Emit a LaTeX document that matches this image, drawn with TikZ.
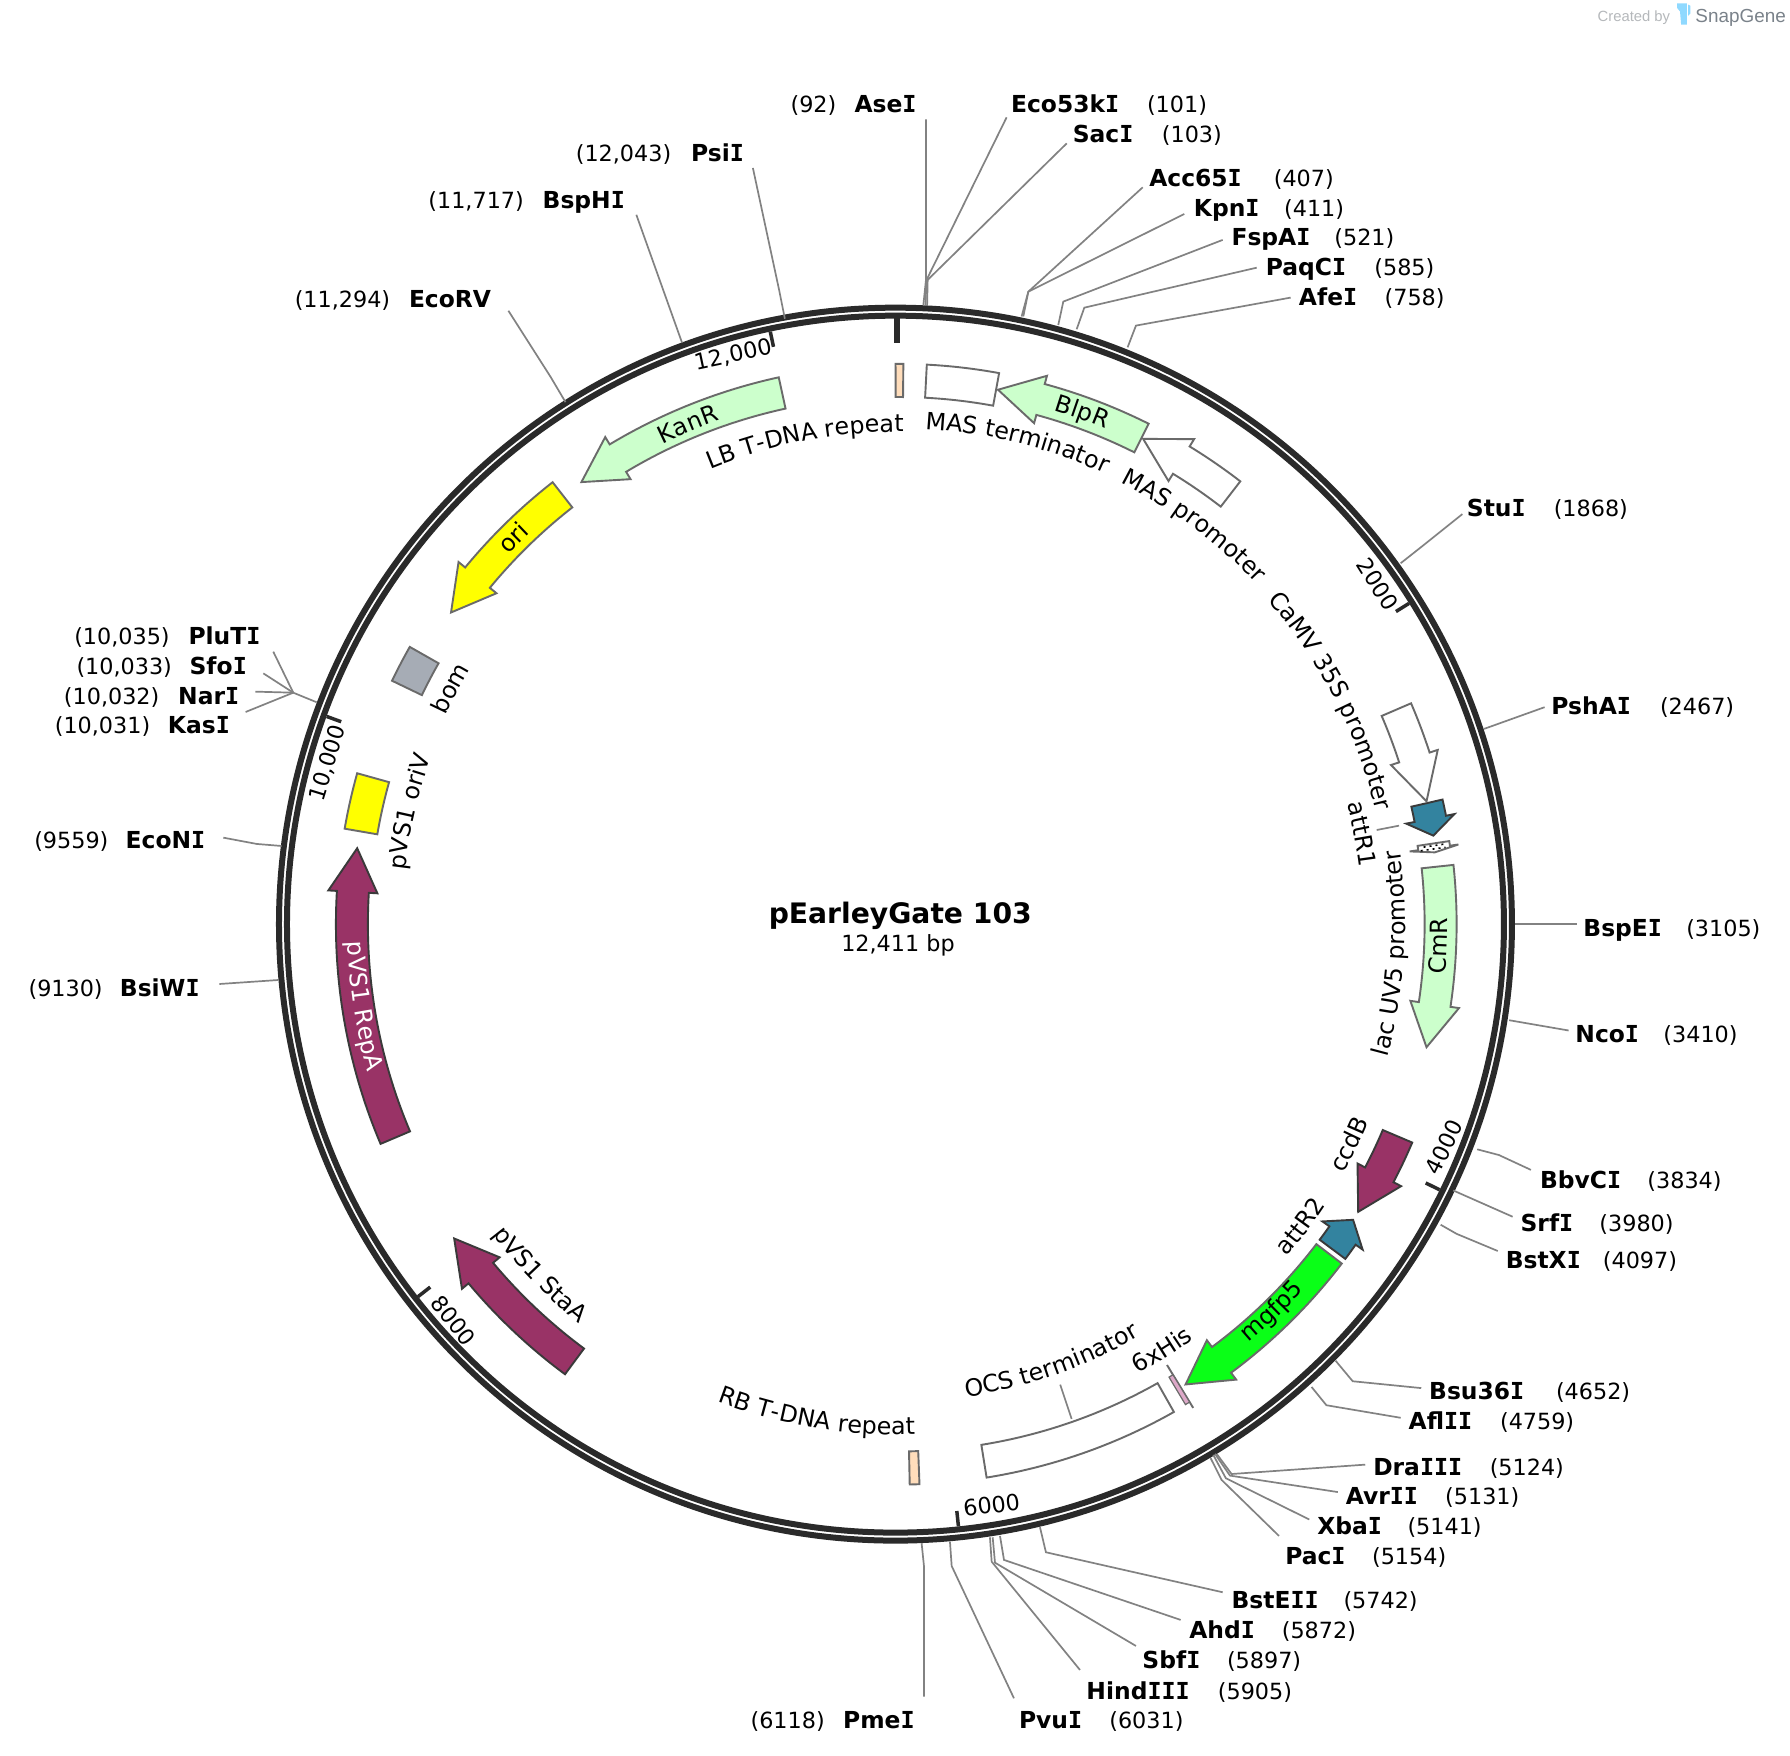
\documentclass[tikz,border=0pt]{standalone}
\usepackage{fontspec}
\setmainfont{DejaVu Sans}
\newfontfamily\logofont{Liberation Sans}
\newfontfamily\serifI{DejaVu Sans Mono}
\usetikzlibrary{decorations.text}
\newcommand\lblfont{\fontsize{22.3}{26}\selectfont}
\newcommand\curvefont{\fontsize{23.8}{26}\selectfont}
\newcommand\boldfont{\fontsize{23.4}{26}\selectfont\bfseries}
\newcommand\bI{{\serifI\bfseries I}}
\tikzset{
  every node/.style={inner sep=0pt,outer sep=0pt},
  ringline/.style={draw=ringcol,line width=6pt},
  tickbig/.style={draw=ringcol,line width=5.5pt},
  ticksmall/.style={draw=ringcol,line width=3.5pt},
  leader/.style={draw=leadcol,line width=1.7pt},
  enzname/.style={anchor=base west,font=\boldfont,text=black},
  enzpos/.style={anchor=base west,font=\lblfont,text=black},
  ticklab/.style={font=\lblfont,text=black},
  feat/.style={line width=1.9pt,draw=edgecol,line join=miter},
  featdark/.style={line width=1.9pt,draw=edgedark,line join=miter},
}
\definecolor{ringcol}{HTML}{2A2A2A}
\definecolor{leadcol}{HTML}{828282}
\definecolor{edgecol}{HTML}{6A6A6A}
\definecolor{edgedark}{HTML}{3A3A3A}
\definecolor{teal1}{HTML}{33839F}
\definecolor{burg}{HTML}{993366}
\definecolor{lgreen}{HTML}{CCFFCC}
\definecolor{ylw}{HTML}{FFFF00}
\definecolor{graybox}{HTML}{A6ACB5}
\definecolor{gfp}{HTML}{0AFF17}
\definecolor{peach}{HTML}{FFDDBB}
\definecolor{pinkb}{HTML}{DDA8C8}
\definecolor{logoblue}{HTML}{8FD9FF}
\definecolor{logogray}{HTML}{B5B8BB}
\definecolor{logodark}{HTML}{7A828A}
% arrow feature: style, tail angle, neck angle, tip angle, mid radius
\newcommand\farrow[5]{\draw[#1] ({#2}:{#5+14}) arc[start angle={#2},end angle={#3},radius={#5+14}] -- ({#3}:{#5+21.5}) -- ({#4}:{#5}) -- ({#3}:{#5-21.5}) -- ({#3}:{#5-14}) arc[start angle={#3},end angle={#2},radius={#5-14}] -- cycle;}
% box feature: style, angle 1, angle 2, mid radius
\newcommand\fband[4]{\draw[#1] ({#2}:{#4+14.5}) arc[start angle={#2},end angle={#3},radius={#4+14.5}] -- ({#3}:{#4-14.5}) arc[start angle={#3},end angle={#2},radius={#4-14.5}] -- cycle;}
% curved labels: baseline radius, mid angle, colour, text
\newcommand\cwlab[4]{\path[decorate,decoration={text along path,text align=center,text={|\curvefont\color{#3}|#4}}] ({#2+40}:#1) arc[start angle={#2+40},end angle={#2-40},radius=#1];}
\newcommand\ccwlab[4]{\path[decorate,decoration={text along path,text align=center,text={|\curvefont\color{#3}|#4}}] ({#2-40}:#1) arc[start angle={#2-40},end angle={#2+40},radius=#1];}
% enzyme: id, name x, name, pos x, pos, y centre
\newcommand\enz[6]{\node[enzname] (#1) at (#2,{-#6-7.3}) {#3}; \node[enzpos] (#1-pos) at (#4,{-#6-7.3}) {#5};}
\newcommand\lthree[7]{\coordinate (#1-a) at (#2,-#3); \coordinate (#1-b) at (#4,-#5); \coordinate (#1-c) at (#6,-#7); \draw[leader] (#1-a) -- (#1-b) -- (#1-c);}
\newcommand\ltwo[5]{\coordinate (#1-a) at (#2,-#3); \coordinate (#1-b) at (#4,-#5); \draw[leader] (#1-a) -- (#1-b);}
\begin{document}
\begin{tikzpicture}[x=1.1425pt,y=1.1425pt]
\useasboundingbox (0,0) rectangle (1566.8,-1537);
\fill[white] (0,0) rectangle (1566.8,-1537);

% logo
\node[anchor=base west,font=\logofont\fontsize{14.8}{16}\selectfont,text=logogray] (createdby) at (1398.5,-18.5) {Created by};
\fill[logoblue] (1468,-3) -- (1476.5,-3) -- (1476.5,-21.5) -- (1471.5,-21.5) -- (1470.5,-10) -- (1468,-7) -- cycle;
\fill[logoblue] (1477.5,-4) -- (1479.5,-5) -- (1479.5,-12) -- (1477.5,-14) -- cycle;
\node[anchor=base west,font=\logofont\fontsize{18.9}{21}\selectfont,text=logodark] (snapgene) at (1484,-19.5) {SnapGene};

% centre title
\node[font=\fontsize{28.2}{32}\selectfont\bfseries] (title) at (788,-802) {pEarleyGate 103};
\node[font=\lblfont] (size) at (786,-827.5) {12,411 bp};

% rings and scale ticks
\begin{scope}[shift={(783.8,-808.9)}]
  \draw[ringline] (0,0) circle[radius=539.6];
  \draw[ringline] (0,0) circle[radius=532.6];
  \foreach \a in {31.99,-26.02,-84.03,-142.04,159.94,101.93}
    \draw[ticksmall] (\a:530) -- (\a:516.5);
\end{scope}
\coordinate (toptick-a) at (785.2,-277);
\coordinate (toptick-b) at (785.2,-300.3);
\draw[tickbig] (toptick-a) -- (toptick-b);

\begin{scope}[shift={(786,-809)}]
  % features
  \farrow{feat,fill=lgreen}{102.3}{121.0}{125.6}{476}
  \farrow{feat,fill=ylw}{128.0}{140.5}{145.1}{477}
  \fband{feat,fill=graybox}{150.4}{154.3}{477}
  \fband{feat,fill=ylw}{164.4}{170.2}{477}
  \farrow{featdark,fill=burg}{203}{176.6}{172}{478}
  \farrow{featdark,fill=burg}{233.5}{219.9}{215.3}{476}
  \fband{feat,fill=peach}{-88.8}{-87.8}{476}
  \fband{feat,fill=white}{-80.9}{-60.5}{476}
  \draw[feat] (-58.6:452) -- (-58.6:496);
  \draw[feat,line width=1.2pt,fill=pinkb] (-59.1:462) arc[start angle=-59.1,end angle=-58.6,radius=462] -- (-58.6:490) arc[start angle=-58.6,end angle=-59.1,radius=490] -- cycle;
  \farrow{feat,fill=gfp}{-37.4}{-53.4}{-58}{475}
  \farrow{featdark,fill=teal1}{-36.8}{-35}{-33}{475}
  \farrow{featdark,fill=burg}{-23}{-27.5}{-32}{475}
  \farrow{feat,fill=lgreen}{6.1}{-8.5}{-13.1}{475}
  \farrow{feat,fill=white}{8.58}{8.1}{7.63}{474}
  \draw[line width=1.6pt,black,dash pattern=on 2pt off 4pt] (8.35:465) -- (8.35:485);
  \draw[line width=1.6pt,black,dash pattern=on 2pt off 4pt] (8.0:462) -- (8.0:484);
  \farrow{featdark,fill=teal1}{12.9}{11.2}{9.4}{475}
  \farrow{feat,fill=white}{23.3}{17.9}{13.1}{475}
  \farrow{feat,fill=white}{52.3}{58.6}{63.2}{476}
  \farrow{feat,fill=lgreen}{63.4}{74.8}{79.4}{476}
  \fband{feat,fill=white}{79.6}{87.05}{476}
  \fband{feat,fill=peach}{89.45}{90.25}{476}

  % labels
  \cwlab{431}{100.9}{black}{LB T-DNA repeat}
  \cwlab{434}{76.1}{black}{MAS terminator}
  \cwlab{433}{53.4}{black}{MAS promoter}
  \cwlab{430}{27.3}{black}{CaMV 35S promoter}
  \cwlab{407}{11}{black}{attR1}
  \ccwlab{444}{-3.4}{black}{lac UV5 promoter}
  \ccwlab{447}{-26}{black}{ccdB}
  \ccwlab{448}{-36.9}{black}{attR2}
  \ccwlab{446}{-58.2}{black}{6xHis}
  \ccwlab{418}{-70.7}{black}{OCS terminator}
  \ccwlab{447}{-99.4}{black}{RB T-DNA repeat}
  \ccwlab{447}{-135.6}{black}{pVS1 StaA}
  \cwlab{434}{167}{black}{pVS1 oriV}
  \cwlab{436}{152.2}{black}{bom}
  \cwlab{468}{112.8}{black}{KanR}
  \cwlab{470}{134.9}{black}{ori}
  \cwlab{470}{70.2}{black}{BlpR}
  \ccwlab{481}{-2.3}{black}{CmR}
  \ccwlab{478}{-46}{black}{mgfp5}
  \ccwlab{482}{-171.3}{white}{pVS1 RepA}
\end{scope}

% feature leaders
\ltwo{attRone}{1205}{726.5}{1224.6}{722.7}
\ltwo{ocsl}{928}{1212}{938}{1242}

% tick labels
\node[ticklab,rotate=-58] (t2000) at (1206,-511) {2000};
\node[ticklab,rotate=64] (t4000) at (1264,-1004) {4000};
\node[ticklab,rotate=7] (t6000) at (868,-1317.5) {6000};
\node[ticklab,rotate=-52] (t8000) at (397,-1156) {8000};
\node[ticklab,rotate=73] (t10000) at (287,-668) {10,000};
\node[ticklab,rotate=12] (t12000) at (642,-311) {12,000};

% enzymes
\enz{AseI}{748}{Ase\bI}{692}{(92)}{91}
\enz{EcoFiftyThree}{885}{Eco53k\bI}{1004}{(101)}{91}
\enz{SacI}{939}{Sac\bI}{1017}{(103)}{117}
\enz{AccSixtyFive}{1006}{Acc65\bI}{1115}{(407)}{156}
\enz{KpnI}{1045}{Kpn\bI}{1124}{(411)}{182}
\enz{FspAI}{1078}{FspA\bI}{1168}{(521)}{208}
\enz{PaqCI}{1108}{PaqC\bI}{1203}{(585)}{234}
\enz{AfeI}{1137}{Afe\bI}{1212}{(758)}{260}
\enz{StuI}{1284}{Stu\bI}{1360}{(1868)}{445}
\enz{PshAI}{1358}{PshA\bI}{1453}{(2467)}{618}
\enz{BspEI}{1386}{BspE\bI}{1476}{(3105)}{812}
\enz{NcoI}{1379}{Nco\bI}{1456}{(3410)}{905}
\enz{BbvCI}{1348}{BbvC\bI}{1442}{(3834)}{1033}
\enz{SrfI}{1331}{Srf\bI}{1400}{(3980)}{1071}
\enz{BstXI}{1318}{BstX\bI}{1403}{(4097)}{1103}
\enz{BsuI}{1251}{Bsu36\bI}{1362}{(4652)}{1218}
\enz{AflII}{1233}{Afl\bI\bI}{1313}{(4759)}{1244}
\enz{DraIII}{1202}{Dra\bI\bI\bI}{1304}{(5124)}{1284}
\enz{AvrII}{1178}{Avr\bI\bI}{1265}{(5131)}{1310}
\enz{XbaI}{1153}{Xba\bI}{1232}{(5141)}{1336}
\enz{PacI}{1125}{Pac\bI}{1201}{(5154)}{1362}
\enz{BstEII}{1078}{BstE\bI\bI}{1176}{(5742)}{1401}
\enz{AhdI}{1041}{Ahd\bI}{1122}{(5872)}{1427}
\enz{SbfI}{1000}{Sbf\bI}{1074}{(5897)}{1453}
\enz{HindIII}{951}{Hind\bI\bI\bI}{1066}{(5905)}{1480}
\enz{PvuI}{892}{Pvu\bI}{971}{(6031)}{1506}
\enz{PmeI}{738}{Pme\bI}{657}{(6118)}{1506}
\enz{PsiI}{605}{Psi\bI}{504}{(12,043)}{134}
\enz{BspHI}{475}{BspH\bI}{375}{(11,717)}{175}
\enz{EcoRV}{358}{EcoRV}{258}{(11,294)}{262}
\enz{PluTI}{165}{PluT\bI}{65}{(10,035)}{557}
\enz{SfoI}{166}{Sfo\bI}{67}{(10,033)}{583}
\enz{NarI}{156}{Nar\bI}{56}{(10,032)}{609}
\enz{KasI}{147}{Kas\bI}{48}{(10,031)}{635}
\enz{EcoNI}{110}{EcoN\bI}{30}{(9559)}{735}
\enz{BsiWI}{105}{BsiW\bI}{25}{(9130)}{865}

% enzyme leaders
\lthree{lAse}{810.5}{104.4}{810.5}{245}{808.2}{267}
\lthree{lEco}{881.1}{102.7}{811}{245}{810}{267}
\lthree{lSac}{933.7}{125.5}{812}{245}{811.5}{267}
\lthree{lAcc}{1000.2}{164}{900.1}{255.3}{894.2}{277}
\lthree{lKpn}{1036.6}{187.3}{900.1}{255.3}{895.7}{277}
\lthree{lFsp}{1070.2}{210}{930.7}{264}{926.3}{284.5}
\lthree{lPaq}{1100}{234.3}{949.1}{269.3}{942.4}{288.2}
\lthree{lAfe}{1129.7}{260.5}{994.3}{285}{987}{304}
\lthree{lStu}{1280}{450}{1245}{478}{1226}{493}
\ltwo{lPsh}{1352}{619}{1299}{638}
\ltwo{lBsp}{1380}{809}{1326}{809}
\ltwo{lNco}{1373}{902}{1321}{893}
\lthree{lBbv}{1340}{1024}{1312}{1011}{1293}{1006}
\ltwo{lSrf}{1324}{1065}{1272}{1042}
\lthree{lBstX}{1311}{1095}{1275}{1080}{1261}{1072}
\lthree{lBsu}{1244}{1215}{1184}{1209}{1169}{1191}
\lthree{lAfl}{1226}{1241}{1161}{1230}{1148}{1214}
\lthree{lDra}{1195}{1282}{1078}{1290.2}{1065}{1272.6}
\lthree{lAvr}{1171}{1306}{1076.6}{1291.6}{1063.5}{1272.6}
\lthree{lXba}{1146}{1330}{1073}{1293.9}{1062}{1273.5}
\lthree{lPac}{1119.5}{1344.4}{1069.3}{1295.4}{1059.7}{1276.4}
\lthree{lBstE}{1070.2}{1393.7}{915.5}{1358.7}{910.3}{1336.8}
\lthree{lAhd}{1033.4}{1417.9}{878.8}{1365.4}{875.3}{1344.4}
\lthree{lSbf}{994.3}{1440.7}{870.9}{1367.8}{868.9}{1345.6}
\lthree{lHind}{945.3}{1461.7}{868}{1366.9}{866.5}{1345.6}
\lthree{lPvu}{887.5}{1486.5}{833}{1370.7}{831.5}{1349.4}
\lthree{lPme}{808.8}{1485}{808.8}{1371.3}{806.7}{1350.8}
\lthree{lPsi}{659}{147}{682}{254}{687}{279}
\ltwo{lBspH}{557}{188}{597}{300}
\lthree{lEcoR}{445}{272}{482}{330}{495}{352}
\lthree{lPlu}{239.2}{570.4}{256.7}{606.3}{277.2}{614.7}
\ltwo{lSfo}{230.5}{589.4}{256.7}{606.3}
\ltwo{lNar}{223.5}{605.4}{256.7}{606.3}
\ltwo{lKas}{215}{623.2}{256.7}{606.3}
\lthree{lEcoN}{195.5}{733.2}{224.7}{738.7}{246.5}{740.5}
\ltwo{lBsiW}{192}{861.3}{243.6}{857.8}
\end{tikzpicture}
\end{document}
